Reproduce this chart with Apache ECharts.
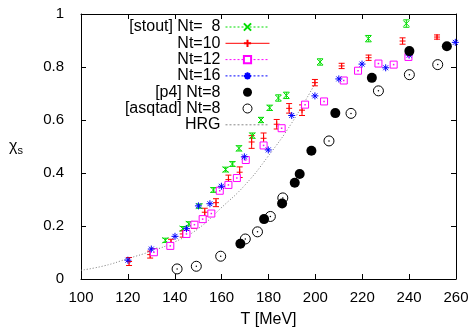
<!DOCTYPE html>
<html><head><meta charset="utf-8">
<script src="https://cdn.jsdelivr.net/npm/echarts@6/dist/echarts.min.js"></script>
<style>html,body{margin:0;padding:0;background:#fff}#c{width:473px;height:333px}</style>
</head><body><div id="c"></div>
<script>
// ---- data (T [MeV], chi_s) ----
const xTicks = [100,120,140,160,180,200,220,240,260];
const yTicks = [0,0.2,0.4,0.6,0.8,1];
const stout8 = [[131,0.107],[136,0.146],[143.4,0.19],[146,0.208],[150.5,0.275],[156.5,0.336],[161.7,0.413],[164.6,0.434],[167.4,0.493],[173.1,0.541],[176.8,0.6],[180.5,0.646],[184.2,0.683],[187.6,0.693],[202,0.819],[222.6,0.907],[238.8,0.964]];
const stout8Err = [0.008,0.008,0.008,0.008,0.008,0.009,0.009,0.009,0.01,0.01,0.01,0.01,0.012,0.012,0.012,0.012,0.014];
const nt10 = [[120.5,0.066],[129.5,0.092],[138.4,0.137],[143.4,0.17],[148.2,0.204],[152.8,0.252],[157.6,0.288],[162.9,0.375],[167.7,0.403],[172.8,0.517],[177.9,0.531],[183.5,0.584],[188.8,0.644],[194.3,0.637],[199.8,0.741],[211.2,0.804],[222.7,0.835],[237.2,0.898],[251.9,0.913]];
const nt10Err = [0.015,0.013,0.013,0.012,0.013,0.015,0.015,0.017,0.02,0.024,0.02,0.018,0.018,0.02,0.012,0.01,0.01,0.012,0.008];
const nt12 = [[131.1,0.101],[138.1,0.125],[145,0.17],[148.4,0.205],[151.9,0.226],[155.6,0.247],[159.2,0.333],[162.9,0.355],[166.5,0.381],[170.3,0.449],[177.9,0.504],[185.6,0.569],[195.6,0.658],[203.7,0.67],[212.1,0.749],[218.2,0.786],[226.9,0.813],[233.4,0.809],[239.7,0.838]];
const nt16 = [[120,0.071],[130,0.113],[140.1,0.161],[145,0.19],[150.1,0.276],[155,0.284],[159.9,0.35],[169.7,0.461],[179.9,0.487],[189.9,0.617],[199.8,0.691],[210,0.755],[219.9,0.811],[230,0.797],[240,0.845],[259.7,0.893]];
const p4 = [[168,0.133],[178.1,0.226],[185.8,0.285],[191.2,0.363],[193.3,0.396],[198.3,0.484],[208.5,0.626],[224.1,0.759],[240.1,0.86],[256.1,0.878]];
const asqtad = [[141,0.038],[149.2,0.048],[159.6,0.086],[170.1,0.151],[175.3,0.178],[180.8,0.236],[186.1,0.306],[205.8,0.521],[215.2,0.625],[226.9,0.71],[240.1,0.771],[252.2,0.809]];
const hrg = [[100,0.033],[110,0.05],[120,0.077],[130,0.105],[140,0.14],[150,0.19],[160,0.27],[170,0.355],[180,0.465],[190,0.59],[200,0.74]];
const names = ['[stout] Nt=  8','Nt=10','Nt=12','Nt=16','[p4] Nt=8','[asqtad] Nt=8','HRG'];

const GREEN='#00dd00', RED='#ff0000', MAG='#ff00ff', BLUE='#0000ff';
const symX='path://M0,0L10,10M10,0L0,10';
const symPlus='path://M5,0L5,10M0,5L10,5';
const symStar='path://M5,0L5,10M0,5L10,5M1.5,1.5L8.5,8.5M8.5,1.5L1.5,8.5';
const FONT='"Liberation Sans", Arial, sans-serif';

function errBars(pts, errs, color){
  return {type:'custom', silent:true, z:2, data: pts.map((p,i)=>[p[0],p[1],errs[i]]),
    renderItem(params, api){
      const x=api.value(0), y=api.value(1), e=api.value(2);
      const t=api.coord([x,y+e]), b=api.coord([x,y-e]); const w=3;
      const st={stroke:color,lineWidth:1};
      return {type:'group',children:[
        {type:'line',shape:{x1:t[0],y1:t[1],x2:b[0],y2:b[1]},style:st},
        {type:'line',shape:{x1:t[0]-w,y1:t[1],x2:t[0]+w,y2:t[1]},style:st},
        {type:'line',shape:{x1:b[0]-w,y1:b[1],x2:b[0]+w,y2:b[1]},style:st}]};
    }};
}
function markSeries(name, pts, sym, size, color){
  return {type:'line', name, data:pts, symbol:sym, symbolSize:size, showSymbol:true, showAllSymbol:true,
    lineStyle:{opacity:0}, itemStyle:{color:'none', borderColor:color, borderWidth:1}, z:3, silent:true, animation:false};
}

const chart = echarts.init(document.getElementById('c'));
const axisCommon = {type:'value', axisLine:{onZero:false, lineStyle:{color:'#000',width:1}}, splitLine:{show:false},
  axisTick:{inside:true,length:5,lineStyle:{color:'#000'}}};
chart.setOption({
  animation:false,
  grid:{left:81,right:17,top:14,bottom:48},
  legend:{orient:'vertical', align:'right', right:203, top:19, itemWidth:44, itemHeight:9, itemGap:0.3, padding:0,
    selectedMode:false, textStyle:{fontFamily:FONT,fontSize:16,color:'#000'},
    data:[
      {name:names[0], lineStyle:{color:GREEN,width:1,type:[2,2],opacity:1}},
      {name:names[1], lineStyle:{color:RED,width:1,type:'solid',opacity:1}},
      {name:names[2], lineStyle:{color:MAG,width:1,type:[2,2],opacity:1}},
      {name:names[3], lineStyle:{color:BLUE,width:1,type:[2,2],opacity:1}},
      {name:names[4]},
      {name:names[5], itemStyle:{borderWidth:1}},
      {name:names[6], itemStyle:{opacity:0}, lineStyle:{color:'#888',width:1,type:[2,2],opacity:1}}
    ]},
  xAxis:[
    Object.assign({}, axisCommon, {min:100,max:260,interval:20, name:'T [MeV]', nameLocation:'middle', nameGap:33,
      nameTextStyle:{fontFamily:FONT,fontSize:16,color:'#000'},
      axisLabel:{fontFamily:FONT,fontSize:15,color:'#000',margin:11, formatter:v=>xTicks.includes(v)?String(v):''}}),
    Object.assign({}, axisCommon, {min:100,max:260,interval:20, position:'top', axisLabel:{show:false}})
  ],
  yAxis:[
    Object.assign({}, axisCommon, {min:0,max:1,interval:0.2, name:'{a|χ}{b|s}', nameLocation:'middle', nameRotate:0, nameGap:58,
      nameTextStyle:{rich:{a:{fontFamily:FONT,fontSize:16,color:'#000'},b:{fontFamily:FONT,fontSize:11,color:'#000',verticalAlign:'bottom',padding:[8,0,0,0]}}},
      axisLabel:{fontFamily:FONT,fontSize:15,color:'#000',margin:17, formatter:v=>yTicks.includes(+v.toFixed(1))?String(+v.toFixed(1)):''}}),
    Object.assign({}, axisCommon, {min:0,max:1,interval:0.2, position:'right', axisLabel:{show:false}})
  ],
  series:[
    {type:'line', name:names[6], data:hrg, smooth:true, symbol:'circle', showSymbol:false, silent:true,
      lineStyle:{color:'#777',width:1,type:[1,2]}, itemStyle:{color:'#777'}, z:1},
    errBars(stout8, stout8Err, GREEN),
    errBars(nt10, nt10Err, RED),
    markSeries(names[0], stout8, symX, 6, GREEN),
    markSeries(names[1], nt10, symPlus, 6, RED),
    Object.assign(markSeries(names[2], nt12, 'rect', 7, MAG), {itemStyle:{color:'#fff',borderColor:MAG,borderWidth:1}}),
    {type:'scatter', data:nt12, symbol:'rect', symbolSize:1.5, itemStyle:{color:MAG,opacity:1}, silent:true, z:4},
    markSeries(names[3], nt16, symStar, 7, BLUE),
    {type:'scatter', name:names[4], data:p4, symbol:'circle', symbolSize:10, itemStyle:{color:'#000',opacity:1}, silent:true, z:3},
    {type:'scatter', name:names[5], data:asqtad, symbol:'circle', symbolSize:10, itemStyle:{color:'rgba(0,0,0,0)',borderColor:'#000',borderWidth:1,opacity:1}, silent:true, z:3},
    {type:'scatter', data:asqtad, symbol:'circle', symbolSize:1.5, itemStyle:{color:'#000',opacity:1}, silent:true, z:4}
  ]
});
</script></body></html>
